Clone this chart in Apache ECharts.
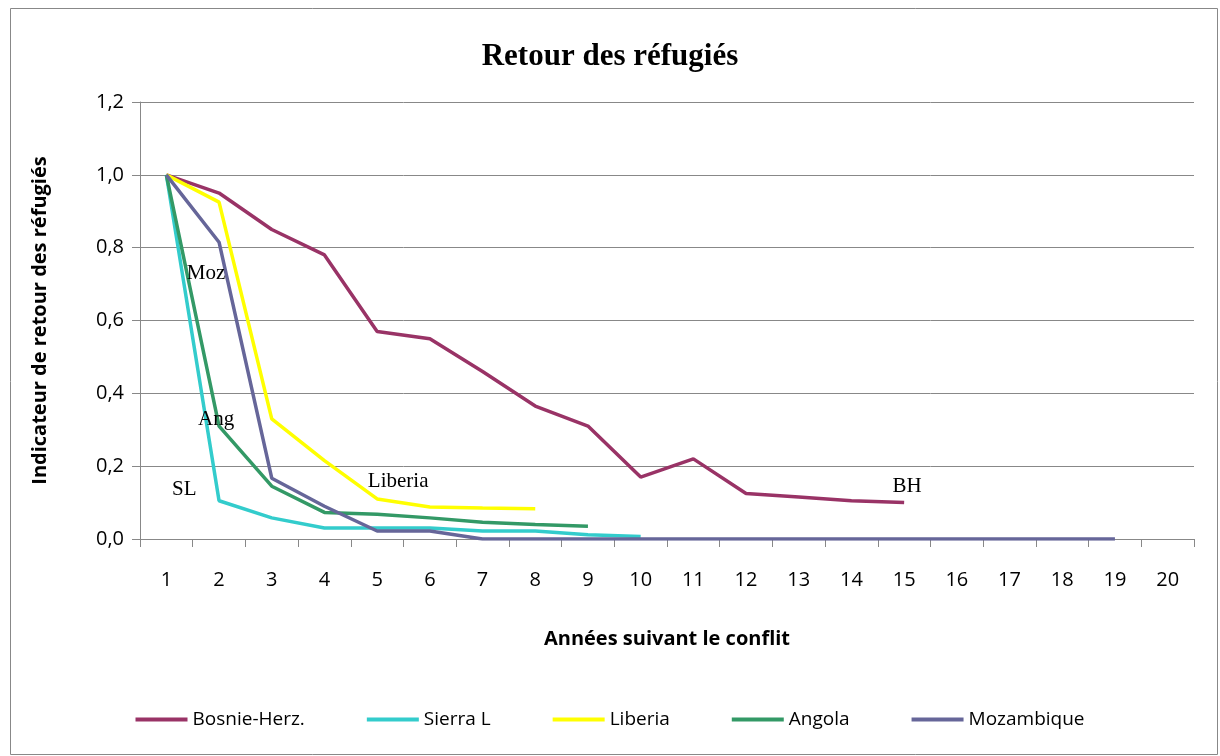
<!DOCTYPE html>
<html>
<head>
<meta charset="utf-8">
<script src="https://cdn.jsdelivr.net/npm/echarts@6/dist/echarts.min.js"></script>
<style>
  html, body { margin: 0; padding: 0; background: #fff; }
  #chart { width: 1220px; height: 756px; }
</style>
</head>
<body>
<div id="chart"></div>
<script>
// Années suivant le conflit
const years = ['1','2','3','4','5','6','7','8','9','10','11','12','13','14','15','16','17','18','19','20'];

// Indicateur de retour des réfugiés
const bosnie = [1.0, 0.95, 0.85, 0.78, 0.57, 0.55, 0.46, 0.365, 0.31, 0.17, 0.22, 0.125, 0.115, 0.105, 0.10];
const sierraL = [1.0, 0.105, 0.058, 0.03, 0.03, 0.03, 0.022, 0.022, 0.012, 0.007];
const liberia = [1.0, 0.925, 0.33, 0.215, 0.11, 0.088, 0.085, 0.083];
const angola = [1.0, 0.31, 0.145, 0.073, 0.068, 0.058, 0.046, 0.04, 0.035];
const mozambique = [1.0, 0.815, 0.167, 0.09, 0.022, 0.022, 0, 0, 0, 0, 0, 0, 0, 0, 0, 0, 0, 0, 0];

// étiquettes dans le graphique : texte, année, valeur, décalage en px
const annotations = [
  ['Moz', '2', 0.73, -13],
  ['Ang', '2', 0.327, -3],
  ['SL', '1', 0.137, 18],
  ['Liberia', '5', 0.157, 21],
  ['BH', '15', 0.143, 3]
];

const chart = echarts.init(document.getElementById('chart'));

const lineSeries = (name, data, color) => ({
  name: name,
  type: 'line',
  data: data,
  symbol: 'none',
  lineStyle: { width: 3.5, color: color },
  itemStyle: { color: color }
});

const option = {
  animation: false,
  backgroundColor: '#fff',
  title: {
    text: 'Retour des réfugiés',
    left: 'center',
    top: 36,
    textStyle: {
      fontFamily: 'Liberation Serif',
      fontSize: 31,
      fontWeight: 'bold',
      color: '#000'
    }
  },
  legend: {
    bottom: 22,
    left: 'center',
    itemWidth: 52,
    itemHeight: 4,
    itemGap: 62,
    icon: 'rect',
    textStyle: { fontFamily: 'Open Sans', fontSize: 19, color: '#000' }
  },
  grid: { left: 140, right: 26, top: 102, bottom: 217 },
  xAxis: {
    type: 'category',
    data: years,
    boundaryGap: true,
    name: 'Années suivant le conflit',
    nameLocation: 'middle',
    nameGap: 90,
    nameTextStyle: { fontFamily: 'Open Sans', fontSize: 20, fontWeight: 'bold', color: '#000' },
    axisLine: { lineStyle: { color: '#888', width: 1 } },
    axisTick: { show: true, length: 8, alignWithLabel: false, lineStyle: { color: '#888' } },
    axisLabel: { margin: 31, fontFamily: 'Open Sans', fontSize: 20, color: '#000' },
    splitLine: { show: false }
  },
  yAxis: {
    type: 'value',
    min: 0,
    max: 1.2,
    interval: 0.2,
    name: 'Indicateur de retour des réfugiés',
    nameLocation: 'middle',
    nameGap: 90,
    nameTextStyle: { fontFamily: 'Open Sans', fontSize: 20, fontWeight: 'bold', color: '#000' },
    axisLine: { show: true, lineStyle: { color: '#888', width: 1 } },
    axisTick: { show: true, length: 8, lineStyle: { color: '#888' } },
    axisLabel: {
      margin: 16,
      fontFamily: 'Open Sans',
      fontSize: 20,
      color: '#000',
      formatter: v => v.toFixed(1).replace('.', ',')
    },
    splitLine: { show: true, lineStyle: { color: '#888', width: 1 } }
  },
  series: [
    lineSeries('Bosnie-Herz.', bosnie, '#993366'),
    lineSeries('Sierra L', sierraL, '#33CCCC'),
    lineSeries('Liberia', liberia, '#FFFF00'),
    lineSeries('Angola', angola, '#339966'),
    lineSeries('Mozambique', mozambique, '#666699')
  ]
};

chart.setOption(option);

// cadre + étiquettes placées via les axes
const graphics = [{
  type: 'rect',
  shape: { x: 10.5, y: 8.5, width: 1207, height: 746 },
  style: { fill: 'none', stroke: '#888', lineWidth: 1 },
  z: -1
}];
annotations.forEach(([text, cat, val, dx]) => {
  const p = chart.convertToPixel({ xAxisIndex: 0, yAxisIndex: 0 }, [cat, val]);
  graphics.push({
    type: 'text',
    x: p[0] + dx,
    y: p[1],
    style: {
      text: text,
      fontFamily: 'Liberation Serif',
      fontSize: 21,
      fill: '#000',
      align: 'center',
      verticalAlign: 'middle'
    },
    z: 10
  });
});
chart.setOption({ graphic: graphics });
</script>
</body>
</html>
